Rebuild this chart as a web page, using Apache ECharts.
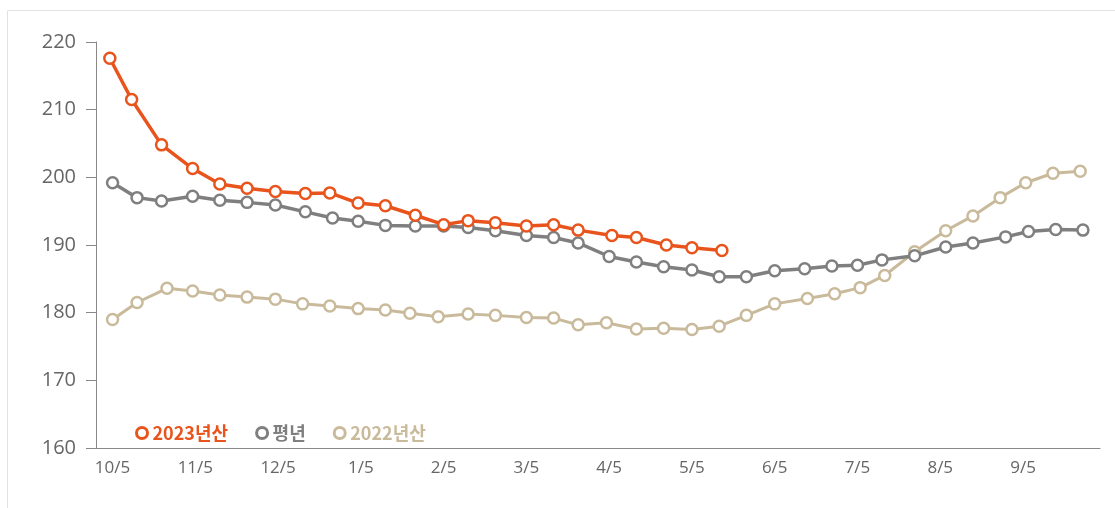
<!DOCTYPE html>
<html>
<head>
<meta charset="utf-8">
<script src="https://cdn.jsdelivr.net/npm/echarts@6/dist/echarts.min.js"></script>
<style>
  html, body { margin: 0; padding: 0; background: #fff; }
  #container { width: 1115px; height: 508px; }
</style>
</head>
<body>
<div id="container"></div>
<script>
var monthLabels = ['10/5', '11/5', '12/5', '1/5', '2/5', '3/5', '4/5', '5/5', '6/5', '7/5', '8/5', '9/5'];

var dates2023 = ['10/4', '10/12', '10/23', '11/4', '11/14', '11/24', '12/4', '12/15', '12/24', '1/4', '1/14', '1/25',
  '2/5', '2/14', '2/24', '3/5', '3/15', '3/24', '4/6', '4/15', '4/26', '5/5', '5/16'];
var values2023 = [217.6, 211.5, 204.8, 201.3, 199.0, 198.4, 197.9, 197.6, 197.7, 196.2, 195.8, 194.4,
  193.0, 193.6, 193.3, 192.8, 193.0, 192.2, 191.4, 191.1, 190.0, 189.6, 189.2];

var datesAvg = ['10/5', '10/14', '10/23', '11/4', '11/14', '11/24', '12/4', '12/15', '12/25', '1/4', '1/14', '1/25',
  '2/5', '2/14', '2/24', '3/5', '3/15', '3/24', '4/5', '4/15', '4/25', '5/5', '5/15', '5/25',
  '6/5', '6/16', '6/26', '7/5', '7/14', '7/26', '8/7', '8/17', '8/29', '9/7', '9/17', '9/27'];
var valuesAvg = [199.2, 197.0, 196.5, 197.2, 196.6, 196.3, 195.9, 194.9, 194.0, 193.5, 192.9, 192.8,
  192.8, 192.6, 192.1, 191.4, 191.1, 190.3, 188.3, 187.5, 186.8, 186.3, 185.3, 185.3,
  186.2, 186.5, 186.9, 187.0, 187.8, 188.4, 189.7, 190.3, 191.2, 192.0, 192.3, 192.2];

var dates2022 = ['10/5', '10/14', '10/25', '11/4', '11/14', '11/24', '12/4', '12/14', '12/24', '1/4', '1/14', '1/23',
  '2/3', '2/14', '2/24', '3/5', '3/15', '3/24', '4/4', '4/15', '4/25', '5/5', '5/15', '5/25',
  '6/5', '6/17', '6/27', '7/6', '7/15', '7/26', '8/7', '8/17', '8/27', '9/6', '9/16', '9/26'];
var values2022 = [179.0, 181.5, 183.6, 183.2, 182.6, 182.3, 182.0, 181.3, 181.0, 180.6, 180.4, 179.9,
  179.4, 179.8, 179.6, 179.3, 179.2, 178.2, 178.5, 177.6, 177.7, 177.5, 178.0, 179.6,
  181.3, 182.1, 182.8, 183.7, 185.5, 189.0, 192.1, 194.3, 197.0, 199.2, 200.6, 200.9];

var seriesNames = ['2023년산', '평년', '2022년산'];
var colors = ['#e8541c', '#7f7f7f', '#c9ba9b'];

// 10/5 = 0, each month one unit
function toMonth(d) {
  var p = d.split('/');
  var idx = (Number(p[0]) + 2) % 12;
  return idx + (Number(p[1]) - 5) / 30.4;
}
function pairs(dates, vals) {
  return dates.map(function (d, i) { return [toMonth(d), vals[i]]; });
}

var chartDom = document.getElementById('container');
var myChart = echarts.init(chartDom);
var option;

function makeSeries(i, dates, vals, width) {
  return {
    name: seriesNames[i],
    type: 'line',
    data: pairs(dates, vals),
    symbol: 'circle',
    symbolSize: 11,
    itemStyle: { color: '#fff', borderColor: colors[i], borderWidth: 2.5 },
    lineStyle: { color: colors[i], width: width },
    z: 10 - i
  };
}

option = {
  animation: false,
  graphic: [{
    type: 'rect',
    shape: { x: 7.5, y: 10.5, width: 1200, height: 600 },
    style: { fill: 'none', stroke: '#e2e2e2', lineWidth: 1 },
    silent: true
  }],
  grid: { left: 96, right: 15, top: 42, bottom: 60 },
  legend: {
    left: 130,
    top: 419,
    itemGap: 27,
    itemWidth: 11,
    itemHeight: 11,
    textStyle: { fontSize: 18, fontWeight: 'bold', fontFamily: 'Noto Sans CJK KR' },
    data: seriesNames.map(function (n, i) {
      return {
        name: n,
        icon: 'circle',
        itemStyle: { color: '#fff', borderColor: colors[i], borderWidth: 3 },
        textStyle: { color: colors[i] }
      };
    })
  },
  xAxis: {
    type: 'value',
    min: -0.2,
    max: 11.93,
    interval: 1,
    splitLine: { show: false },
    axisTick: { show: false },
    axisLine: { onZero: false, lineStyle: { color: '#888', width: 1 } },
    axisLabel: {
      color: '#666',
      fontSize: 17,
      fontFamily: 'Open Sans',
      margin: 12,
      customValues: monthLabels.map(function (l, i) { return i; }),
      formatter: function (v) { return monthLabels[Math.round(v)] || ''; }
    }
  },
  yAxis: {
    type: 'value',
    min: 160,
    max: 220,
    interval: 10,
    splitLine: { show: false },
    axisLine: { show: true, onZero: false, lineStyle: { color: '#888', width: 1 } },
    axisTick: { show: true, length: 10, lineStyle: { color: '#888' } },
    axisLabel: { color: '#666', fontSize: 20, fontFamily: 'Open Sans', margin: 20 }
  },
  series: [
    makeSeries(0, dates2023, values2023, 3.5),
    makeSeries(1, datesAvg, valuesAvg, 3.5),
    makeSeries(2, dates2022, values2022, 3)
  ]
};

option && myChart.setOption(option);
</script>
</body>
</html>
